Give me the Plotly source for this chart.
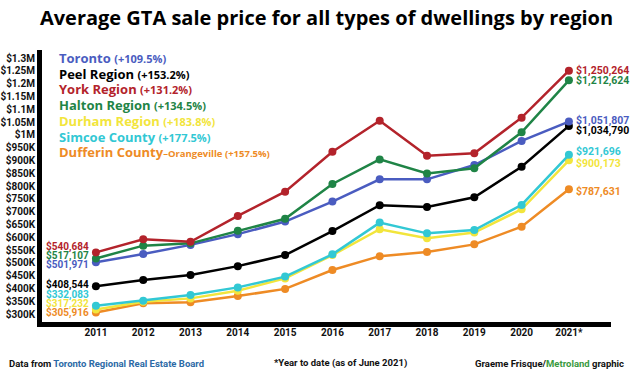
import plotly.graph_objects as go

years = [2011, 2012, 2013, 2014, 2015, 2016, 2017, 2018, 2019, 2020, 2021]
year_labels = ["2011", "2012", "2013", "2014", "2015", "2016", "2017", "2018", "2019", "2020", "2021*"]

toronto = [501971, 534000, 570000, 612000, 661000, 739000, 826000, 826000, 882000, 976000, 1051807]
peel = [408544, 433000, 452000, 487000, 530000, 624000, 725000, 718000, 756000, 875000, 1034790]
york = [540684, 592000, 582000, 683000, 778000, 934000, 1055000, 918000, 928000, 1067000, 1250264]
halton = [517107, 567000, 576000, 625000, 672000, 808000, 904000, 849000, 869000, 1010000, 1212624]
durham = [317232, 348000, 361000, 391000, 439000, 530000, 631000, 596000, 618000, 709000, 900173]
simcoe = [332083, 352000, 374000, 404000, 446000, 533000, 657000, 615000, 628000, 726000, 921696]
dufferin = [305916, 342000, 346000, 370000, 398000, 472000, 526000, 542000, 572000, 641000, 787631]

names = ["Toronto", "Peel Region", "York Region", "Halton Region", "Durham Region", "Simcoe County", "Dufferin County"]
pct = ["+109.5%", "+153.2%", "+131.2%", "+134.5%", "+183.8%", "+177.5%", "+157.5%"]
series = [toronto, peel, york, halton, durham, simcoe, dufferin]
colors = ["#4a5cc0", "#000000", "#b3232b", "#1f8446", "#f2e53c", "#32c8d4", "#ee8b25"]

y_ticks = [300000 + 50000 * i for i in range(21)]


def fmt_tick(v):
    if v >= 1000000:
        s = f"{v/1e6:.2f}".rstrip("0").rstrip(".")
        return f"${s}M"
    return f"${v//1000}K"


y_tick_text = [fmt_tick(v) for v in y_ticks]

# label offsets (styling only)
left_yshift = [-2, 2, 6, 3, 6, 11, 0]
right_yshift = [1, -5, 0, 0, -3, 3, -2]

FONT = "Open Sans"
NARROW = "Roboto"

W, H = 633, 375
L, R, T, B = 42, 633 - 611, 50, 375 - 322
PW, PH = W - L - R, H - T - B


def px(x):
    return (x - L) / PW


def py(y):
    return (H - B - y) / PH


fig = go.Figure()

order = [6, 4, 5, 1, 0, 3, 2]
for i in order:
    fig.add_trace(go.Scatter(
        x=years, y=series[i], mode="lines+markers",
        line=dict(color=colors[i], width=2.5),
        marker=dict(color=colors[i], size=8),
        name=names[i], showlegend=False, hoverinfo="skip", cliponaxis=False))

ann = []
for i in range(7):
    s = series[i]
    ann.append(dict(x=years[0], y=s[0], xref="x", yref="y", text=f"<b>${s[0]:,}</b>",
                    showarrow=False, xanchor="right", yanchor="middle", xshift=-5,
                    yshift=left_yshift[i], font=dict(family=NARROW, size=10, color=colors[i])))
    ann.append(dict(x=years[-1], y=s[-1], xref="x", yref="y", text=f"<b>${s[-1]:,}</b>",
                    showarrow=False, xanchor="left", yanchor="middle", xshift=5,
                    yshift=right_yshift[i], font=dict(family=NARROW, size=10.5, color=colors[i])))

for i in range(7):
    if i == 6:
        txt = f"<b>{names[i]}</b><span style='font-size:9.5px'><b>–Orangeville ({pct[i]})</b></span>"
    else:
        txt = f"<b>{names[i]}</b> <span style='font-size:11px'><b>({pct[i]})</b></span>"
    ann.append(dict(x=px(57), y=py(58 + i * 15.7), xref="paper", yref="paper", text=txt,
                    showarrow=False, xanchor="left", yanchor="middle",
                    font=dict(family=FONT, size=13, color=colors[i])))

foot_y = py(363)
ann.append(dict(x=px(7), y=foot_y, xref="paper", yref="paper",
                text="<b>Data from <span style='color:#2c6aa6'>Toronto Regional Real Estate Board</span></b>",
                showarrow=False, xanchor="left", yanchor="middle", font=dict(family=NARROW, size=9.5, color="#111")))
ann.append(dict(x=px(340), y=foot_y, xref="paper", yref="paper", text="<b>*Year to date (as of June 2021)</b>",
                showarrow=False, xanchor="center", yanchor="middle", font=dict(family=NARROW, size=9.5, color="#111")))
ann.append(dict(x=px(626), y=foot_y, xref="paper", yref="paper",
                text="<b>Graeme Frisque/<span style='color:#3a9a3e'>Metroland</span> graphic</b>",
                showarrow=False, xanchor="right", yanchor="middle", font=dict(family=NARROW, size=9.5, color="#111")))

fig.update_layout(
    width=W, height=H,
    margin=dict(l=L, r=R, t=T, b=B, autoexpand=False),
    paper_bgcolor="white", plot_bgcolor="white",
    title=dict(text="<b>Average GTA sale price for all types of dwellings by region</b>",
               x=0.5, xanchor="center", xref="paper", y=1 - 18 / H, yanchor="middle",
               font=dict(family=FONT, size=20, color="#000"), automargin=False),
    xaxis=dict(range=[2009.86, 2021.89], tickvals=years, ticktext=year_labels, automargin=False,
               showgrid=False, zeroline=False, showline=True, linecolor="black", linewidth=5,
               ticks="", ticklabelstandoff=-3,
               tickfont=dict(family=NARROW, size=10, color="#111", weight="bold")),
    yaxis=dict(range=[268750, 1331250], tickvals=y_ticks, ticktext=y_tick_text, automargin=False,
               showgrid=False, zeroline=False, showline=True, linecolor="black", linewidth=5,
               ticks="", ticklabelstandoff=0,
               tickfont=dict(family=NARROW, size=10, color="#111", weight="bold")),
    annotations=ann,
)

fig.write_html("out.html", post_script="document.body.style.margin='0';",
               config={"displayModeBar": False})
